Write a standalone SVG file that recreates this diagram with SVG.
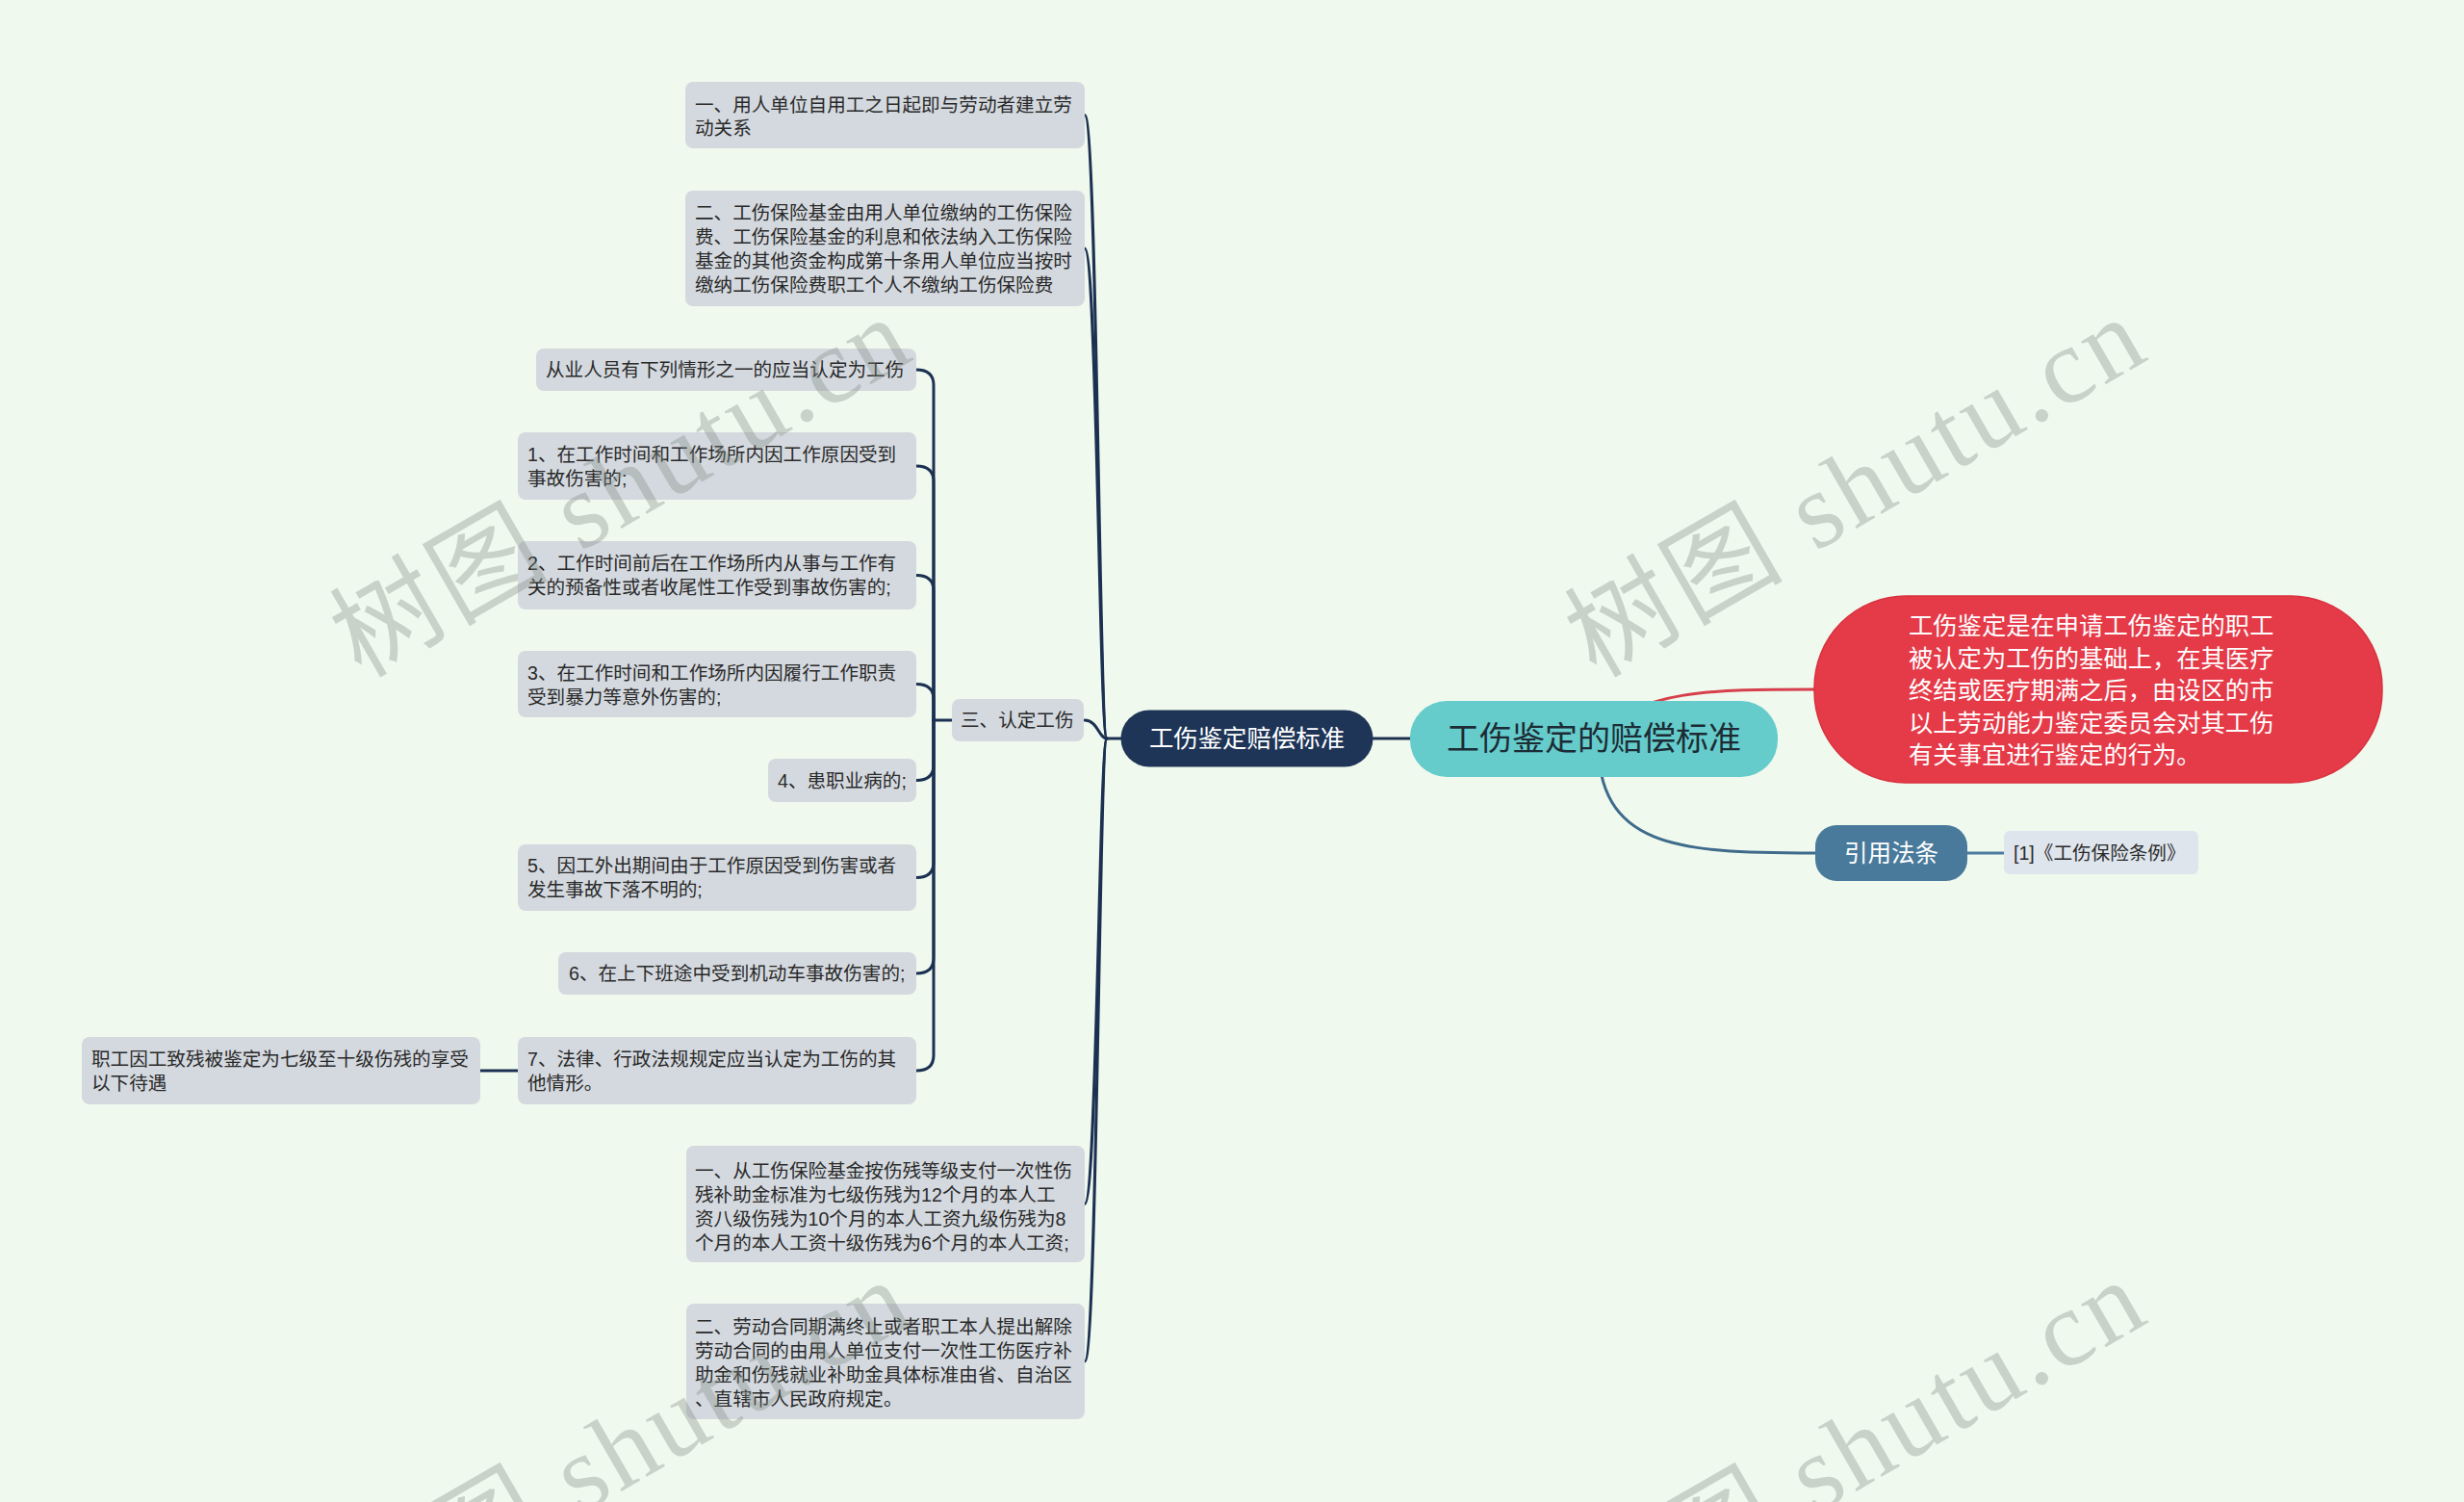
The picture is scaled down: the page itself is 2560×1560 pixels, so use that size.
<svg xmlns="http://www.w3.org/2000/svg" width="2560" height="1560" viewBox="0 0 2560 1560">
<style>
.bg{fill:#f0f9ee}
.g{fill:#d4d9df}
.t{font-family:"Liberation Sans","Noto Sans CJK SC",sans-serif;font-size:19.6px;fill:#2a2a2a;dominant-baseline:central}
.c{fill:none;stroke:#1c3152;stroke-width:3;stroke-linecap:round}
.wm{font-family:"Liberation Serif","Noto Sans CJK SC",serif;font-size:112px;fill:#7f8a81;fill-opacity:0.35}
</style>
<rect class="bg" x="0" y="0" width="2560" height="1560"/>
<g id="connectors">
<path class="c" d="M1127,119.5 C1140,119.5 1142,767 1150,767"/>
<path class="c" d="M1127,258 C1140,258 1142,767 1150,767"/>
<path class="c" d="M1127,748 C1140,748 1142,767 1150,767"/>
<path class="c" d="M1127,1250.5 C1140,1250.5 1142,767 1150,767"/>
<path class="c" d="M1127,1414 C1140,1414 1142,767 1150,767"/>
<path class="c" d="M1150,767 L1166,767"/>
<path class="c" d="M1426,767 L1466,767"/>
<path class="c" d="M952,384 Q970,384 970,400 L970,748 L989,748"/>
<path class="c" d="M952,484 Q970,484 970,500 L970,748"/>
<path class="c" d="M952,597.5 Q970,597.5 970,613.5 L970,748"/>
<path class="c" d="M952,710.5 Q970,710.5 970,726.5 L970,748"/>
<path class="c" d="M952,810.5 Q970,810.5 970,794.5 L970,748"/>
<path class="c" d="M952,911.5 Q970,911.5 970,895.5 L970,748"/>
<path class="c" d="M952,1011 Q970,1011 970,995 L970,748"/>
<path class="c" d="M952,1112 Q970,1112 970,1096 L970,748"/>
<path class="c" d="M499,1112 L538,1112"/>
<path fill="none" stroke="#d6404c" stroke-width="3" d="M1656,767 C1700,716 1780,716 1886,716"/>
<path fill="none" stroke="#3f6b8b" stroke-width="3" d="M1660,767 C1660,880 1740,886 1886,886"/>
<path fill="none" stroke="#4a7b9d" stroke-width="3" d="M2044,886 L2082,886"/>
</g>
<g id="root">
<rect x="1465" y="728" width="382" height="79" rx="38" fill="#65cccb"/>
<text x="1656" y="767" text-anchor="middle" dominant-baseline="central" font-family="Liberation Sans,Noto Sans CJK SC,sans-serif" font-size="34" fill="#1d2b35">工伤鉴定的赔偿标准</text>
</g>
<g id="n-main">
<rect x="1164.5" y="737.5" width="262" height="59" rx="29.5" fill="#1e3557"/>
<text x="1295.5" y="767" text-anchor="middle" dominant-baseline="central" font-family="Liberation Sans,Noto Sans CJK SC,sans-serif" font-size="25.4" fill="#fff">工伤鉴定赔偿标准</text>
</g>
<g id="n-def">
<rect x="1885" y="619" width="590" height="194" rx="95" fill="#e53a48" stroke="#d8323f" stroke-width="1.5"/>
<g font-family="Liberation Sans,Noto Sans CJK SC,sans-serif" font-size="25.3" fill="#fff" dominant-baseline="central">
<text x="1983" y="650">工伤鉴定是在申请工伤鉴定的职工</text>
<text x="1983" y="683.5">被认定为工伤的基础上，在其医疗</text>
<text x="1983" y="717">终结或医疗期满之后，由设区的市</text>
<text x="1983" y="750.5">以上劳动能力鉴定委员会对其工伤</text>
<text x="1983" y="784">有关事宜进行鉴定的行为。</text>
</g>
</g>
<g id="n-law">
<rect x="1886" y="857" width="158" height="58" rx="22" fill="#497a9b"/>
<text x="1965" y="886" text-anchor="middle" dominant-baseline="central" font-family="Liberation Sans,Noto Sans CJK SC,sans-serif" font-size="24.5" fill="#fff">引用法条</text>
</g>
<g id="n-law1">
<rect x="2082" y="863" width="202" height="45" rx="6" fill="#dee5ed"/>
<text class="t" x="2092" y="886">[1]《工伤保险条例》</text>
</g>
<g id="nA">
<rect class="g" x="712" y="85" width="415" height="69" rx="8"/>
<text class="t" x="722" y="109">一、用人单位自用工之日起即与劳动者建立劳</text>
<text class="t" x="722" y="133">动关系</text>
</g>
<g id="nB">
<rect class="g" x="712" y="198" width="415" height="120" rx="8"/>
<text class="t" x="722" y="221">二、工伤保险基金由用人单位缴纳的工伤保险</text>
<text class="t" x="722" y="246">费、工伤保险基金的利息和依法纳入工伤保险</text>
<text class="t" x="722" y="271">基金的其他资金构成第十条用人单位应当按时</text>
<text class="t" x="722" y="296">缴纳工伤保险费职工个人不缴纳工伤保险费</text>
</g>
<g id="n3rd">
<rect class="g" x="989" y="726" width="137" height="44" rx="8"/>
<text class="t" x="998" y="748">三、认定工伤</text>
</g>
<g id="nC">
<rect class="g" x="557" y="362" width="395" height="44" rx="8"/>
<text class="t" x="567" y="384">从业人员有下列情形之一的应当认定为工伤</text>
</g>
<g id="n1">
<rect class="g" x="538" y="449" width="414" height="70" rx="8"/>
<text class="t" x="548" y="472">1、在工作时间和工作场所内因工作原因受到</text>
<text class="t" x="548" y="497">事故伤害的;</text>
</g>
<g id="n2">
<rect class="g" x="538" y="562" width="414" height="71" rx="8"/>
<text class="t" x="548" y="585">2、工作时间前后在工作场所内从事与工作有</text>
<text class="t" x="548" y="610">关的预备性或者收尾性工作受到事故伤害的;</text>
</g>
<g id="n3">
<rect class="g" x="538" y="676" width="414" height="69" rx="8"/>
<text class="t" x="548" y="698.5">3、在工作时间和工作场所内因履行工作职责</text>
<text class="t" x="548" y="723.5">受到暴力等意外伤害的;</text>
</g>
<g id="n4">
<rect class="g" x="798" y="788" width="154" height="45" rx="8"/>
<text class="t" x="808" y="810.5">4、患职业病的;</text>
</g>
<g id="n5">
<rect class="g" x="538" y="877" width="414" height="69" rx="8"/>
<text class="t" x="548" y="899">5、因工外出期间由于工作原因受到伤害或者</text>
<text class="t" x="548" y="924">发生事故下落不明的;</text>
</g>
<g id="n6">
<rect class="g" x="580" y="989" width="372" height="44" rx="8"/>
<text class="t" x="591" y="1011">6、在上下班途中受到机动车事故伤害的;</text>
</g>
<g id="n7">
<rect class="g" x="538" y="1077" width="414" height="70" rx="8"/>
<text class="t" x="548" y="1099.5">7、法律、行政法规规定应当认定为工伤的其</text>
<text class="t" x="548" y="1124.5">他情形。</text>
</g>
<g id="nD">
<rect class="g" x="85" y="1077" width="414" height="70" rx="8"/>
<text class="t" x="95" y="1100">职工因工致残被鉴定为七级至十级伤残的享受</text>
<text class="t" x="95" y="1125">以下待遇</text>
</g>
<g id="nE">
<rect class="g" x="713" y="1190" width="414" height="121" rx="8"/>
<text class="t" x="722" y="1215.5">一、从工伤保险基金按伤残等级支付一次性伤</text>
<text class="t" x="722" y="1240.5">残补助金标准为七级伤残为12个月的本人工</text>
<text class="t" x="722" y="1265.5">资八级伤残为10个月的本人工资九级伤残为8</text>
<text class="t" x="722" y="1290.5">个月的本人工资十级伤残为6个月的本人工资;</text>
</g>
<g id="nF">
<rect class="g" x="713" y="1354" width="414" height="120" rx="8"/>
<text class="t" x="722" y="1378">二、劳动合同期满终止或者职工本人提出解除</text>
<text class="t" x="722" y="1403">劳动合同的由用人单位支付一次性工伤医疗补</text>
<text class="t" x="722" y="1428">助金和伤残就业补助金具体标准由省、自治区</text>
<text class="t" x="722" y="1453">、直辖市人民政府规定。</text>
</g>
<g id="watermarks">
<text class="wm" transform="translate(375,705) rotate(-30)" textLength="665" lengthAdjust="spacing">树图 shutu.cn</text>
<text class="wm" transform="translate(1658,705) rotate(-30)" textLength="665" lengthAdjust="spacing">树图 shutu.cn</text>
<text class="wm" transform="translate(375,1705) rotate(-30)" textLength="665" lengthAdjust="spacing">树图 shutu.cn</text>
<text class="wm" transform="translate(1658,1705) rotate(-30)" textLength="665" lengthAdjust="spacing">树图 shutu.cn</text>
</g>
</svg>
